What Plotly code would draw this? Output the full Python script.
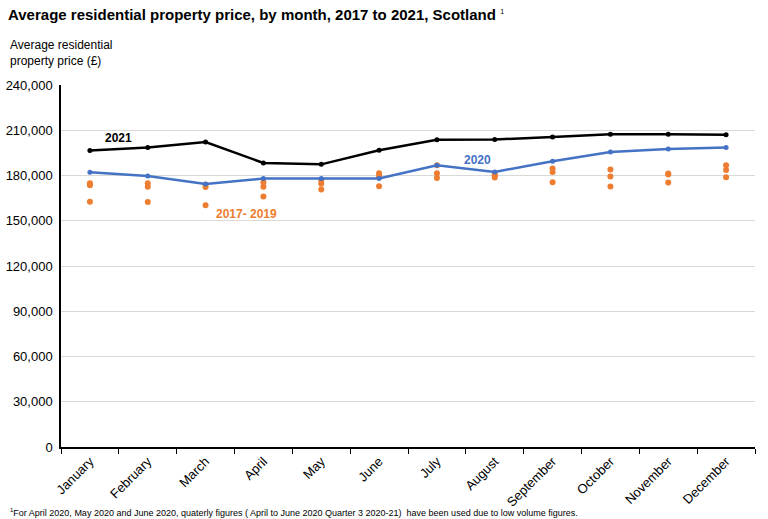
import plotly.graph_objects as go

months = ["January", "February", "March", "April", "May", "June", "July",
          "August", "September", "October", "November", "December"]

price_2021 = [196500, 198500, 202200, 188300, 187400, 196700, 203700,
              203900, 205500, 207400, 207400, 207000]
price_2020 = [182200, 179700, 174400, 178000, 178000, 178000, 186800,
              182400, 189400, 195600, 197600, 198500]
price_2017 = [162600, 162400, 160200, 166100, 170700, 172900, 178400,
              178700, 175600, 172700, 175400, 178900]
price_2018 = [173600, 172500, 172300, 172500, 174500, 179500, 181500,
              179800, 182400, 179300, 180600, 183700]
price_2019 = [174900, 174900, 173800, 175500, 176500, 181500, 186800,
              180800, 184600, 183900, 181300, 186800]

y_ticks = [0, 30000, 60000, 90000, 120000, 150000, 180000, 210000, 240000]

BLUE = "#4472C4"
ORANGE = "#ED7D31"

fig = go.Figure()

for vals in (price_2017, price_2018, price_2019):
    fig.add_trace(go.Scatter(x=months, y=vals, mode="markers",
                             marker=dict(color=ORANGE, size=6),
                             showlegend=False, hoverinfo="skip"))

fig.add_trace(go.Scatter(x=months, y=price_2020, mode="lines+markers",
                         line=dict(color=BLUE, width=2.5),
                         marker=dict(color=BLUE, size=5), showlegend=False))
fig.add_trace(go.Scatter(x=months, y=price_2021, mode="lines+markers",
                         line=dict(color="black", width=2.5),
                         marker=dict(color="black", size=5), showlegend=False))

fig.update_layout(
    width=768, height=519,
    margin=dict(l=61, r=13, t=85, b=72),
    paper_bgcolor="white", plot_bgcolor="white",
    font=dict(family="Liberation Sans, Arial, sans-serif", size=13, color="black"),
    showlegend=False,
)

fig.update_xaxes(
    type="category", categoryorder="array", categoryarray=months,
    tickson="boundaries", ticks="outside", ticklen=5, tickcolor="black",
    showline=True, linecolor="black", linewidth=1.5,
    showgrid=False, tickangle=-45, tickfont=dict(size=13),
    range=[-0.5, 11.5], automargin=False,
)
fig.update_yaxes(
    range=[0, 240000], tickvals=y_ticks,
    ticktext=[f"{v:,}" for v in y_ticks],
    showline=True, linecolor="black", linewidth=1.5,
    showgrid=True, gridcolor="#D9D9D9", gridwidth=1,
    zeroline=False, ticks="", tickfont=dict(size=13),
    automargin=False, ticklabelstandoff=4,
)

annotations = [
    dict(text="<b>Average residential property price, by month, 2017 to 2021, Scotland</b> <sup><span style='font-size:7px'>1</span></sup>",
         xref="paper", yref="paper", x=-55/694, y=1 + 70/362, xanchor="left", yanchor="middle",
         showarrow=False, font=dict(size=15, color="black")),
    dict(text="Average residential<br>property price (£)",
         xref="paper", yref="paper", x=-53/694, y=1 + 32/362, xanchor="left", yanchor="middle",
         align="left", showarrow=False, font=dict(size=12, color="black")),
    dict(text="<b>2021</b>", x=0.5, y=204700, xref="x", yref="y", showarrow=False,
         font=dict(size=12, color="black")),
    dict(text="<b>2020</b>", x=6.71, y=190100, xref="x", yref="y", showarrow=False,
         font=dict(size=12, color=BLUE)),
    dict(text="<b>2017- 2019</b>", x=2.71, y=154600, xref="x", yref="y", showarrow=False,
         font=dict(size=12, color=ORANGE)),
    dict(text="<sup><span style='font-size:6px'>1</span></sup>For April 2020, May 2020 and June 2020, quaterly figures ( April to June 2020 Quarter 3 2020-21)  have been used due to low volume figures.",
         xref="paper", yref="paper", x=-53/694, y=-65/362, xanchor="left", yanchor="middle",
         showarrow=False, font=dict(family="Liberation Sans Narrow, Arial Narrow, sans-serif", size=9, color="black")),
]
fig.update_layout(annotations=annotations)

fig.write_html("out.html", config={"displayModeBar": False},
               post_script="document.body.style.margin='0';document.body.style.padding='0';")
